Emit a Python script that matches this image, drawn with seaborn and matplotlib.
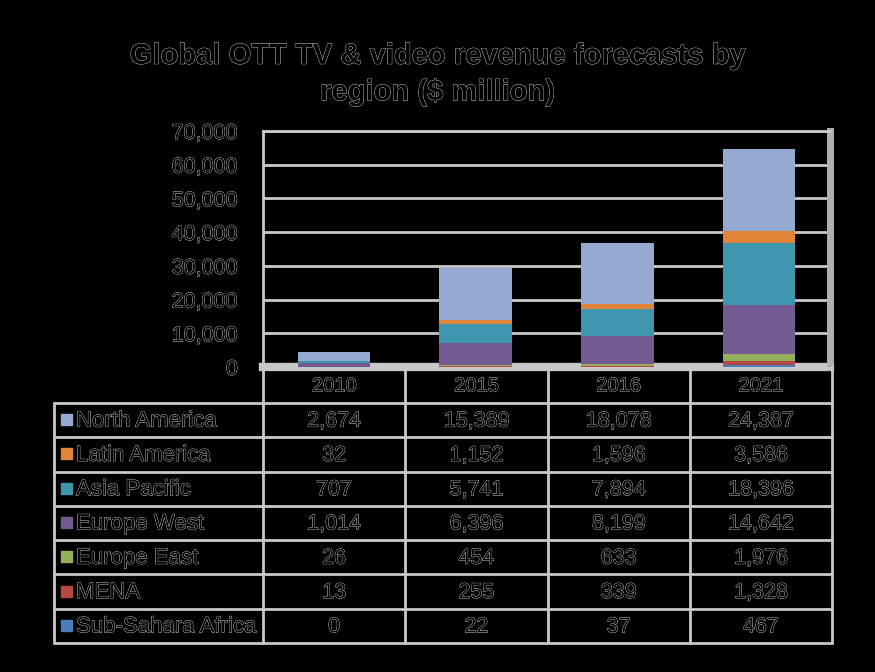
import matplotlib
matplotlib.use("Agg")
import matplotlib.pyplot as plt
import matplotlib.patheffects as pe
import seaborn as sns

years = ["2010", "2015", "2016", "2021"]
regions = ["North America", "Latin America", "Asia Pacific", "Europe West",
           "Europe East", "MENA", "Sub-Sahara Africa"]
north_america = [2674, 15389, 18078, 24387]
latin_america = [32, 1152, 1596, 3586]
asia_pacific = [707, 5741, 7894, 18396]
europe_west = [1014, 6396, 8199, 14642]
europe_east = [26, 454, 633, 1976]
mena = [13, 255, 339, 1328]
sub_sahara = [0, 22, 37, 467]
colors = ["#95A9D2", "#E0843A", "#3E97AE", "#745A92", "#94AF5A", "#B4473F", "#4A7EBB"]
title = "Global OTT TV & video revenue forecasts by\nregion ($ million)"
yticks = [0, 10000, 20000, 30000, 40000, 50000, 60000, 70000]

series = [north_america, latin_america, asia_pacific, europe_west,
          europe_east, mena, sub_sahara]

sns.set_theme(style="white")
plt.rcParams['font.family'] = ['Liberation Sans', 'DejaVu Sans']

W, H = 875, 672
fig = plt.figure(figsize=(W / 100, H / 100), dpi=100, facecolor="black")

outline = [pe.withStroke(linewidth=0.6, foreground="#d8d8d8")]

def fx(px):
    return px / W

def fy(py):
    return 1 - py / H

# chart axes
L, R, T, B = 263, 830, 131, 367
ax = fig.add_axes([fx(L), fy(B), fx(R - L), (B - T) / H])
ax.set_facecolor("black")

bottom = [0] * len(years)
for name, vals, col in reversed(list(zip(regions, series, colors))):
    sns.barplot(x=years, y=vals, color=col, width=0.51, ax=ax,
                bottom=bottom, saturation=1, linewidth=0, zorder=3)
    bottom = [b + v for b, v in zip(bottom, vals)]

ax.set_ylim(0, 70000)
ax.set_xlim(-0.5, 3.5)
ax.set_yticks(yticks)
ax.set_yticklabels([f"{v:,}" for v in yticks])
ax.set_xticks([])
for lab in ax.get_yticklabels():
    lab.set_fontsize(15.5)
    lab.set_color("black")
    lab.set_path_effects(outline)
ax.tick_params(axis="y", length=0, pad=18)
ax.yaxis.grid(True, color="#c8c8c8", linewidth=2, zorder=1)
for s in ["left", "top"]:
    ax.spines[s].set_color("#c8c8c8")
    ax.spines[s].set_linewidth(2)
ax.spines["right"].set_color("#b0b0b0")
ax.spines["right"].set_linewidth(5)
ax.spines["bottom"].set_color("#c8c8c8")
ax.spines["bottom"].set_linewidth(6)
ax.spines["bottom"].set_zorder(2)
ax.set_ylabel("")
ax.set_xlabel("")

# title
fig.text(0.5, fy(74), title, ha="center", va="center", fontsize=21,
         fontweight="bold", color="black", path_effects=outline, linespacing=1.38)

# table
TL, TR, TT, TB = 54, 832, 367, 643
tax = fig.add_axes([0, 0, 1, 1])
tax.set_xlim(0, W)
tax.set_ylim(H, 0)
tax.axis("off")
tax.patch.set_alpha(0)

ncol = len(years)
colw = (TR - L) / ncol
head_b = 403
rowh = (TB - head_b) / len(regions)
lc = "#c8c8c8"
lw = 2

for i in range(ncol + 1):
    x = L + i * colw
    tax.plot([x, x], [TT, TB], color=lc, lw=lw)
tax.plot([TL, TL], [head_b, TB], color=lc, lw=lw)
tax.plot([L, TR], [TT + 1, TT + 1], color=lc, lw=lw)
for k in range(len(regions) + 1):
    y = head_b + k * rowh
    tax.plot([TL, TR], [y, y], color=lc, lw=lw)

for i, yr in enumerate(years):
    tax.text(L + (i + 0.5) * colw, (TT + head_b) / 2 + 1, yr, ha="center",
             va="center", fontsize=14.5, color="black", path_effects=outline)

for k, (name, vals, col) in enumerate(zip(regions, series, colors)):
    yc = head_b + (k + 0.5) * rowh
    tax.add_patch(plt.Rectangle((61, yc - 6), 11, 11, color=col, zorder=4))
    tax.text(76, yc + 1, name, ha="left", va="center", fontsize=16,
             color="black", path_effects=outline)
    for i, v in enumerate(vals):
        tax.text(L + (i + 0.5) * colw, yc + 1, f"{v:,}", ha="center",
                 va="center", fontsize=15.5, color="black", path_effects=outline)

fig.savefig("out.png", dpi=100, facecolor="black")
